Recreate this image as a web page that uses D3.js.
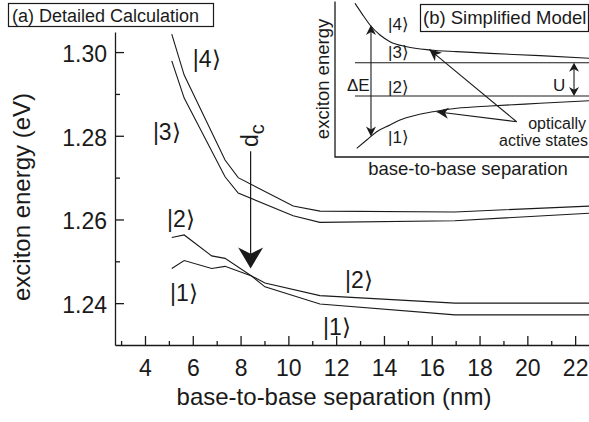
<!DOCTYPE html>
<html lang="en">
<head>
<meta charset="UTF-8">
<title>Exciton energy vs base-to-base separation</title>
<script src="https://d3js.org/d3.v7.min.js"></script>
<style>
  body { margin: 0; background: #fff; }
  text { font-family: "Liberation Sans", Arial, sans-serif; fill: #1a1a1a; }
</style>
</head>
<body>
<script>
// (a) detailed calculation: separations (nm) and energies (eV)
const sepUpper = [5.12, 5.64, 7.35, 7.9, 10.2, 11.32, 16.97, 22.58];
const state4 = [1.3043, 1.2945, 1.2742, 1.2700, 1.2632, 1.2620, 1.2618, 1.2632];
const state3 = [1.2979, 1.2890, 1.2702, 1.2663, 1.2609, 1.2593, 1.2597, 1.2615];

const sepLower = [5.12, 5.64, 6.79, 7.35, 8.46, 9.02, 11.32, 16.97, 22.58];
const state2 = [1.2557, 1.2563, 1.2513, 1.2507, 1.2465, 1.2448, 1.2418, 1.2400, 1.2400];
const state1 = [1.2483, 1.2502, 1.2483, 1.2488, 1.2465, 1.2439, 1.2398, 1.2372, 1.2372];

const xMajor = [4, 6, 8, 10, 12, 14, 16, 18, 20, 22];
const xMinor = [3, 5, 7, 9, 11, 13, 15, 17, 19, 21];
const yMajor = [1.24, 1.26, 1.28, 1.30];
const yMinor = [1.25, 1.27, 1.29];

// critical distance arrow
const dcSep = 8.42;
const dcFrom = 1.2763;
const dcTo = 1.2483;

// (b) simplified model, arbitrary units 0..100
const modelSepUp = [7.87, 10.51, 13.78, 17.72, 21.65, 28.23, 37.4, 47.9, 61.02, 80.7, 100];
const modelUp = [99.8, 93.3, 85.7, 79.2, 74.9, 71.6, 69.5, 68.4, 67.3, 65.8, 64.1];
const modelSepLow = [8.54, 12.48, 16.42, 21.65, 25.59, 32.17, 38.7, 47.9, 61.02, 80.7, 100];
const modelLow = [5.65, 11.04, 16.43, 20.78, 24.03, 27.27, 29.42, 31.62, 33.12, 34.87, 36.56];
const modelLevels = [61.2, 39.6];
const modelLevelStart = 7.87;

const width = 589, height = 422;
const ink = "#1a1a1a";

const svg = d3.select("body").append("svg")
  .attr("width", width)
  .attr("height", height);

svg.append("rect").attr("width", width).attr("height", height).attr("fill", "#fff");

const x = d3.scaleLinear().domain([2.745, 22.58]).range([115, 589]);
const y = d3.scaleLinear().domain([1.23, 1.3048]).range([345, 32]);

// barbed arrow head, tip at [tx,ty], pointing from [fx,fy]
function arrowHead(g, fx, fy, tx, ty, len, w) {
  const a = Math.atan2(ty - fy, tx - fx);
  const ux = Math.cos(a), uy = Math.sin(a);
  const px = -uy, py = ux;
  const bx = tx - ux * len, by = ty - uy * len;
  const pts = [
    [tx, ty],
    [bx + px * w / 2, by + py * w / 2],
    [tx - ux * len * 0.7, ty - uy * len * 0.7],
    [bx - px * w / 2, by - py * w / 2]
  ];
  g.append("path").attr("d", "M" + pts.join("L") + "Z").attr("fill", ink);
}

// axes
svg.append("g").attr("transform", "translate(0,345)")
  .call(d3.axisBottom(x).tickValues(xMajor).tickSize(-9).tickPadding(15).tickSizeOuter(0));
svg.append("g").attr("transform", "translate(0,345)")
  .call(d3.axisBottom(x).tickValues(xMinor).tickSize(-4).tickFormat("").tickSizeOuter(0))
  .select(".domain").remove();

const yAxis = svg.append("g").attr("transform", "translate(115,0)")
  .call(d3.axisLeft(y).tickValues(yMajor).tickSize(-9).tickPadding(8).tickSizeOuter(0)
    .tickFormat(d3.format(".2f")));
svg.append("g").attr("transform", "translate(115,0)")
  .call(d3.axisLeft(y).tickValues(yMinor).tickSize(-5).tickFormat("").tickSizeOuter(0))
  .select(".domain").remove();

svg.selectAll(".domain, .tick line").attr("stroke", ink).attr("stroke-width", 1.3);
svg.selectAll(".tick text")
  .style("font-family", "'Liberation Sans', Arial, sans-serif")
  .style("font-size", "23px").attr("fill", ink);
yAxis.selectAll(".tick text").attr("dy", "9.5px");

svg.append("text")
  .attr("x", 334).attr("y", 405)
  .attr("text-anchor", "middle").style("font-size", "24px")
  .text("base-to-base separation (nm)");

svg.append("text")
  .attr("transform", "translate(30,197) rotate(-90)")
  .attr("text-anchor", "middle").style("font-size", "24px")
  .text("exciton energy (eV)");

// curves
const line = d3.line().x(d => x(d[0])).y(d => y(d[1]));
[[sepUpper, state4], [sepUpper, state3], [sepLower, state2], [sepLower, state1]].forEach(([s, v]) => {
  svg.append("path")
    .datum(s.map((d, i) => [d, v[i]]))
    .attr("d", line)
    .attr("fill", "none").attr("stroke", ink).attr("stroke-width", 1.1);
});

// state labels
const ketLabel = (g, px, py, n, size) => g.append("text")
  .attr("x", px).attr("y", py).style("font-size", size + "px").text("|" + n + "\u27E9");

ketLabel(svg, x(6.0), y(1.2964), 4, 23);
ketLabel(svg, x(4.33), y(1.2790), 3, 23);
ketLabel(svg, x(4.92), y(1.2583), 2, 23);
ketLabel(svg, x(5.05), y(1.2404), 1, 23);
ketLabel(svg, x(12.37), y(1.2436), 2, 23);
ketLabel(svg, x(11.45), y(1.2324), 1, 23);

// d_c arrow
svg.append("line")
  .attr("x1", x(dcSep)).attr("x2", x(dcSep))
  .attr("y1", y(dcFrom)).attr("y2", y(dcTo) - 12)
  .attr("stroke", ink).attr("stroke-width", 1.2);
arrowHead(svg, x(dcSep), y(dcFrom), x(dcSep), y(dcTo), 21, 25);

const dc = svg.append("text")
  .attr("transform", `translate(${x(dcSep) + 7},147) rotate(-90)`)
  .style("font-size", "23px");
dc.append("tspan").text("d");
dc.append("tspan").attr("dy", 6).style("font-size", "20px").text("c");

// panel (a) title
svg.append("rect").attr("x", 8.5).attr("y", 3.5).attr("width", 205).attr("height", 23)
  .attr("fill", "#fff").attr("stroke", ink).attr("stroke-width", 1.2);
svg.append("text").attr("x", 12).attr("y", 21.5).style("font-size", "18px")
  .text("(a) Detailed Calculation");

// ---- inset (b) ----
const ix = d3.scaleLinear().domain([0, 100]).range([335, 589]);
const iy = d3.scaleLinear().domain([0, 100]).range([157, 3]);
const inset = svg.append("g");

inset.append("path")
  .attr("d", `M${ix(0)},${iy(101)}V${iy(0)}H${ix(100)}`)
  .attr("fill", "none").attr("stroke", ink).attr("stroke-width", 1.3);

const iline = d3.line().x(d => ix(d[0])).y(d => iy(d[1])).curve(d3.curveMonotoneX);
[[modelSepUp, modelUp], [modelSepLow, modelLow]].forEach(([s, v]) => {
  inset.append("path")
    .datum(s.map((d, i) => [d, v[i]]))
    .attr("d", iline)
    .attr("fill", "none").attr("stroke", ink).attr("stroke-width", 1.1);
});
modelLevels.forEach(l => {
  inset.append("line")
    .attr("x1", ix(modelLevelStart)).attr("x2", ix(100))
    .attr("y1", iy(l)).attr("y2", iy(l))
    .attr("stroke", ink).attr("stroke-width", 1.1);
});

// Delta E double arrow
const deX = ix(14.17), deTop = iy(85.7), deBot = iy(13.3);
inset.append("line").attr("x1", deX).attr("x2", deX).attr("y1", deTop + 6).attr("y2", deBot - 6)
  .attr("stroke", ink).attr("stroke-width", 1.1);
arrowHead(inset, deX, deBot, deX, deTop, 10, 10);
arrowHead(inset, deX, deTop, deX, deBot, 10, 10);

// U double arrow
const uX = ix(94.1), uTop = iy(modelLevels[0]), uBot = iy(modelLevels[1]);
inset.append("line").attr("x1", uX).attr("x2", uX).attr("y1", uTop + 6).attr("y2", uBot - 6)
  .attr("stroke", ink).attr("stroke-width", 1.1);
arrowHead(inset, uX, uBot, uX, uTop, 9, 10);
arrowHead(inset, uX, uTop, uX, uBot, 9, 10);

// pointers to optically active states
const hub = [ix(71.5), iy(22.9)];
[[37.1, 69.9], [40.0, 29.4]].forEach(([a, b]) => {
  const tx = ix(a), ty = iy(b);
  inset.append("line").attr("x1", hub[0]).attr("y1", hub[1]).attr("x2", tx).attr("y2", ty)
    .attr("stroke", ink).attr("stroke-width", 1.1);
  arrowHead(inset, hub[0], hub[1], tx, ty, 12, 11);
});

ketLabel(inset, ix(20.9), iy(82.5), 4, 17);
ketLabel(inset, ix(20.9), iy(64.3), 3, 17);
ketLabel(inset, ix(20.9), iy(41.6), 2, 17);
ketLabel(inset, ix(20.9), iy(9.1), 1, 17);

inset.append("text").attr("x", ix(4.7)).attr("y", iy(42.9)).style("font-size", "17px").text("\u0394E");
inset.append("text").attr("x", ix(85.8)).attr("y", iy(42.9)).style("font-size", "17px").text("U");

inset.append("text").attr("x", 586).attr("y", iy(18.3)).attr("text-anchor", "end")
  .style("font-size", "16px").text("optically");
inset.append("text").attr("x", 588).attr("y", iy(7.1)).attr("text-anchor", "end")
  .style("font-size", "16px").text("active states");

inset.append("text")
  .attr("transform", `translate(329,79) rotate(-90)`)
  .attr("text-anchor", "middle").style("font-size", "18.5px")
  .text("exciton energy");
inset.append("text")
  .attr("x", 468).attr("y", 175)
  .attr("text-anchor", "middle").style("font-size", "18.5px")
  .text("base-to-base separation");

inset.append("rect").attr("x", 420.5).attr("y", 4.5).attr("width", 168).attr("height", 27)
  .attr("fill", "#fff").attr("stroke", ink).attr("stroke-width", 1.2);
inset.append("text").attr("x", 423).attr("y", 24).style("font-size", "18.5px")
  .text("(b) Simplified Model");
</script>
</body>
</html>
